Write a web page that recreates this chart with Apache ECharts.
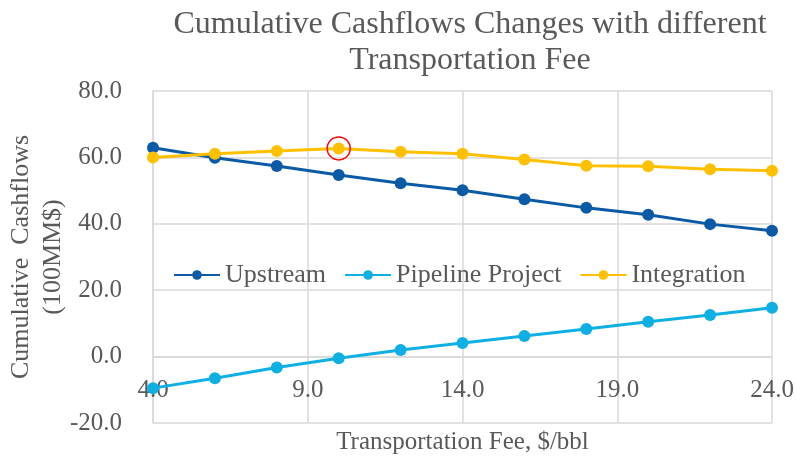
<!DOCTYPE html>
<html>
<head>
<meta charset="utf-8">
<script src="https://cdn.jsdelivr.net/npm/echarts@6/dist/echarts.min.js"></script>
<style>
  html, body { margin: 0; padding: 0; background: #fff; }
  #chart { width: 796px; height: 460px; }
</style>
</head>
<body>
<div id="chart"></div>
<script>
const fees = [4, 6, 8, 10, 12, 14, 16, 18, 20, 22, 24]
const upstream = [62.9, 59.9, 57.4, 54.7, 52.2, 50.1, 47.4, 44.8, 42.7, 39.9, 37.9]
const pipeline = [-9.5, -6.5, -3.3, -0.5, 2.0, 4.1, 6.2, 8.3, 10.5, 12.5, 14.7]
const integration = [60.0, 61.1, 61.9, 62.7, 61.7, 61.1, 59.4, 57.5, 57.3, 56.4, 56.0]
const highlightIndex = 3

const font = 'Liberation Serif'
const textColor = '#595959'
const gridColor = '#d9d9d9'

const yMin = -20
const yMax = 80
const gridTop = 91
const gridBottom = 37
const plotHeight = 460 - gridTop - gridBottom
// x axis sits on the zero line, like the Excel original
const xAxisOffset = -((0 - yMin) / (yMax - yMin)) * plotHeight

const pairs = (ys) => fees.map((x, i) => [x, ys[i]])

function lineSeries(name, ys, color) {
  return {
    name: name,
    type: 'line',
    data: pairs(ys),
    symbol: 'circle',
    symbolSize: 12,
    lineStyle: { color: color, width: 3 },
    itemStyle: { color: color },
    emphasis: { disabled: true },
  }
}

const chart = echarts.init(document.getElementById('chart'))
const integrationSeries = lineSeries('Integration', integration, '#ffc000')
// red ring around the best integration point
integrationSeries.markPoint = {
  symbol: 'circle',
  symbolSize: 23,
  label: { show: false },
  itemStyle: { color: 'transparent', borderColor: '#ff0000', borderWidth: 1.5 },
  data: [{ coord: [fees[highlightIndex], integration[highlightIndex]] }],
}

chart.setOption({
  animation: false,
  title: {
    text: 'Cumulative Cashflows Changes with different\nTransportation Fee',
    left: 465,
    top: 2,
    textAlign: 'center',
    textStyle: { fontFamily: font, fontSize: 32, fontWeight: 'normal', color: textColor, lineHeight: 36 },
  },
  legend: {
    left: 168,
    top: 257,
    itemWidth: 46,
    itemHeight: 12,
    itemGap: 18,
    textStyle: { fontFamily: font, fontSize: 26, color: textColor },
    data: ['Upstream', 'Pipeline Project', 'Integration'],
  },
  grid: { left: 153, right: 24, top: gridTop, bottom: gridBottom, outerBoundsMode: 'none' },
  xAxis: {
    type: 'value',
    min: 4,
    max: 24,
    interval: 5,
    position: 'bottom',
    offset: xAxisOffset,
    name: 'Transportation Fee, $/bbl',
    nameLocation: 'middle',
    nameGap: 73,
    nameMoveOverlap: false,
    nameTextStyle: { fontFamily: font, fontSize: 25, color: textColor },
    axisLine: { onZero: false, lineStyle: { color: gridColor, width: 1.5 } },
    axisTick: { show: false },
    axisLabel: { fontFamily: font, fontSize: 25, color: textColor, margin: 21, formatter: (v) => v.toFixed(1) },
    splitLine: { show: true, lineStyle: { color: gridColor, width: 1.5 } },
  },
  yAxis: {
    type: 'value',
    min: yMin,
    max: yMax,
    interval: 20,
    name: 'Cumulative  Cashflows\n(100MM$)',
    nameLocation: 'middle',
    nameGap: 84,
    nameMoveOverlap: false,
    nameTextStyle: { fontFamily: font, fontSize: 26, color: textColor, lineHeight: 32 },
    axisLine: { show: true, onZero: false, lineStyle: { color: gridColor, width: 1.5 } },
    axisTick: { show: false },
    axisLabel: { fontFamily: font, fontSize: 25, color: textColor, margin: 31, formatter: (v) => v.toFixed(1) },
    splitLine: { show: true, lineStyle: { color: gridColor, width: 1.5 } },
  },
  series: [
    lineSeries('Upstream', upstream, '#0a5aa6'),
    lineSeries('Pipeline Project', pipeline, '#0eb0e4'),
    integrationSeries,
  ],
})
</script>
</body>
</html>
